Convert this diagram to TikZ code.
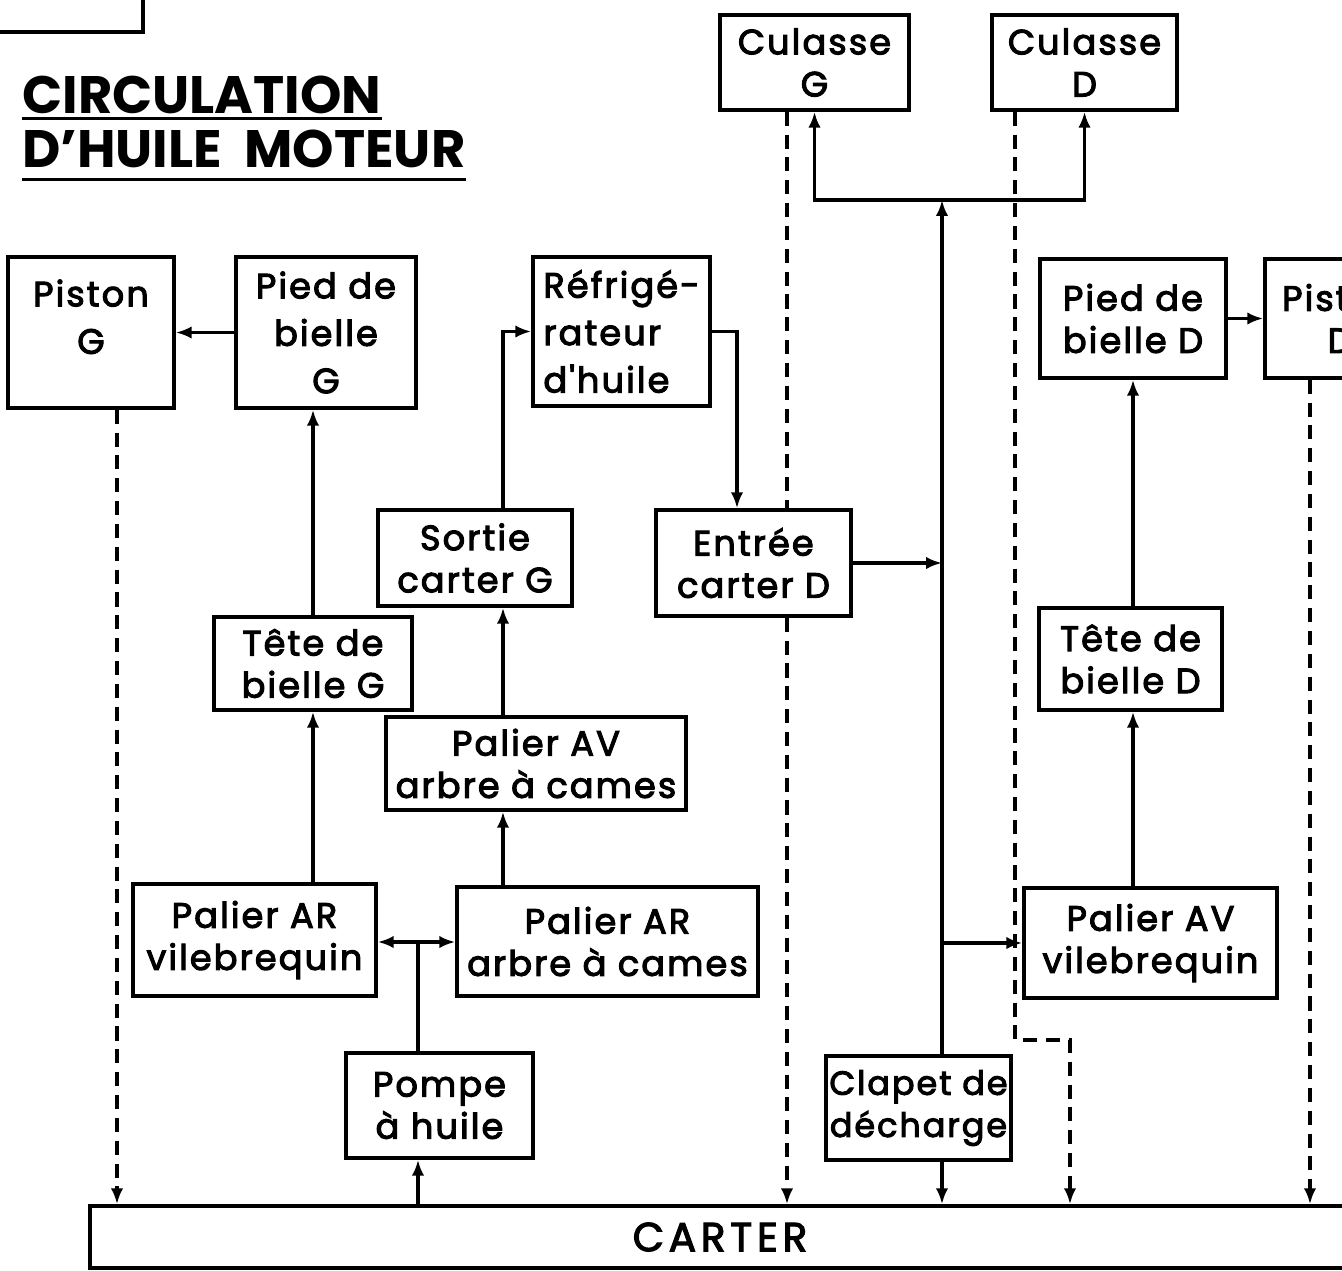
\documentclass[tikz,border=0pt]{standalone}
\usepackage{fontspec}
\setmainfont{Poppins}
\newfontfamily\lettrage[LetterSpace=6,FakeBold=3]{Poppins}
\newfontfamily\espace[LetterSpace=12,FakeBold=3]{Poppins}
\usetikzlibrary{arrows.meta}
\tikzset{
  >={Latex[length=9pt,width=7pt]},
  cadre/.style 2 args={minimum width=#1*0.02cm,minimum height=#2*0.02cm},
}
\tikzstyle{bloc}=[draw,line width=2pt,inner xsep=0.5pt,inner ysep=2pt,align=center,
  font=\lettrage\fontsize{20}{24}\selectfont]
\tikzstyle{large}=[font=\lettrage\fontsize{20}{27}\selectfont]
\tikzstyle{serre}=[font=\lettrage\fontsize{19}{24}\selectfont]
\tikzstyle{flux}=[line width=2pt,->]
\tikzstyle{retour}=[line width=2pt,->,dash pattern=on 8pt off 5pt]
\tikzstyle{titre}=[inner sep=0pt,anchor=base west,
  font=\bfseries\fontsize{30}{36}\selectfont]

\begin{document}
\begin{tikzpicture}[x=0.02cm,y=-0.02cm]
    \useasboundingbox (0,0) rectangle (1342,1271);
    \clip (0,0) rectangle (1342,1271);
    \draw[line width=2pt] (0,32) -- (143,32) -- (143,0);

    \node[titre] (t1) at (22,113) {CIRCULATION};
    \node[titre] (t2) at (22,167) {D'HUILE\ \ MOTEUR};
    \draw[line width=2pt] ([yshift=-3pt]t1.base west) -- ([yshift=-3pt]t1.base east);
    \draw[line width=2pt] ([yshift=-7pt]t2.base west) -- ([yshift=-7pt]t2.base east);

    \node[bloc,cadre={189}{95}] (culG) at (814.5,62.5) {Culasse\\G};
    \node[bloc,cadre={185}{95}] (culD) at (1084.5,62.5) {Culasse\\D};
    \node[bloc,large,cadre={166}{151},text depth=18pt] (pisG) at (91,332.5) {Piston\\G};
    \node[bloc,large,cadre={180}{151}] (pbG) at (326,332.5) {Pied de\\bielle\\G};
    \node[bloc,large,cadre={177}{149},align=left] (refr) at (621.5,331.5) {Réfrigé-\\rateur\\d'huile};
    \node[bloc,cadre={186}{119}] (pbD) at (1133,318.5) {Pied de\\bielle D};
    \node[bloc,cadre={150}{119}] (pisD) at (1340,318.5) {Piston\\D};
    \node[bloc,cadre={194}{96}] (sortG) at (475,558) {Sortie\\carter G};
    \node[bloc,cadre={195}{106}] (entD) at (753.5,563) {Entrée\\carter D};
    \node[bloc,cadre={198}{93}] (tbG) at (313,663.5) {Tête de\\bielle G};
    \node[bloc,cadre={183}{102}] (tbD) at (1130.5,659) {Tête de\\bielle D};
    \node[bloc,cadre={300}{93}] (pavac) at (536,763.5) {Palier AV\\arbre à cames};
    \node[bloc,cadre={243}{112}] (parv) at (254.5,940) {Palier AR\\vilebrequin};
    \node[bloc,cadre={301}{109}] (parac) at (607.5,941.5) {Palier AR\\arbre à cames};
    \node[bloc,cadre={253}{110}] (pavv) at (1150.5,943) {Palier AV\\vilebrequin};
    \node[bloc,cadre={187}{105}] (pompe) at (439.5,1105.5) {Pompe\\à huile};
    \node[bloc,serre,cadre={185}{104}] (clapet) at (918.5,1108) {Clapet de\\décharge};
    \node[bloc,cadre={1260}{62},font=\espace\fontsize{23}{26}\selectfont] (carter) at (720,1237) {CARTER};

    \coordinate (jct) at (418,942);
    \coordinate (cam) at (503,850);
    \coordinate (desc) at (737,450);
    \coordinate (dist) at (942,200);
    \coordinate (rpG) at (117,800);
    \coordinate (rcG) at (787,800);
    \coordinate (coude) at (1015,1040);
    \coordinate (rcl) at (1070,1040);
    \coordinate (rpD) at (1310,800);

    \draw[flux] (carter.north -| jct) -- (pompe.south -| jct);
    \draw[line width=2pt] (pompe.north -| jct) -- (jct);
    \draw[flux,<->] (parv.east |- jct) -- (parac.west |- jct);
    \draw[flux] (tbG.south |- parv.north) -- (tbG.south);
    \draw[flux] (tbG.north) -- (tbG.north |- pbG.south);
    \draw[flux] (pbG.west) -- (pisG.east);
    \draw[flux] (parac.north -| cam) -- (pavac.south -| cam);
    \draw[flux] (pavac.north -| cam) -- (sortG.south -| cam);
    \draw[flux] (sortG.north -| cam) |- (refr.west);
    \draw[flux] (refr.east) -| (entD.north -| desc);
    \draw[flux] (entD.east) -- (entD.east -| dist);
    \draw[flux] (clapet.north -| dist) -- (dist);
    \draw[flux,<->] (culG.south) |- (dist) -| (culD.south);
    \draw[flux] (pavv.west -| dist) -- (pavv.west);
    \draw[flux] (clapet.south -| dist) -- (carter.north -| dist);
    \draw[flux] (pavv.north -| pbD) -- (tbD.south -| pbD);
    \draw[flux] (tbD.north -| pbD) -- (pbD.south);
    \draw[flux] (pbD.east) -- (pisD.west);

    \draw[retour] (pisG.south -| rpG) -- (carter.north -| rpG);
    \draw[retour,-] (culG.south -| rcG) -- (entD.north -| rcG);
    \draw[retour] (entD.south -| rcG) -- (carter.north -| rcG);
    \draw[retour] (culD.south -| coude) -- (coude) -- (rcl) -- (carter.north -| rcl);
    \draw[retour] (pisD.south -| rpD) -- (carter.north -| rpD);
\end{tikzpicture}
\end{document}
